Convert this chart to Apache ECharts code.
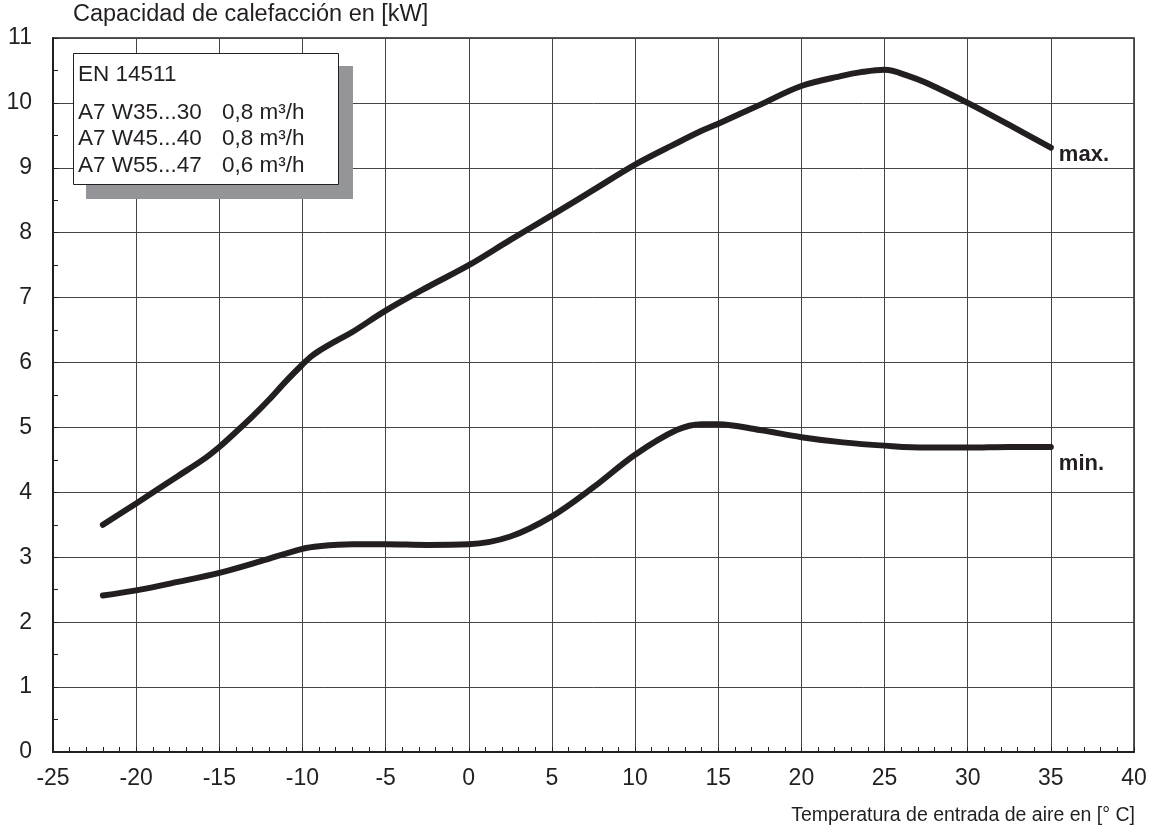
<!DOCTYPE html>
<html>
<head>
<meta charset="utf-8">
<script src="https://cdn.jsdelivr.net/npm/echarts@6/dist/echarts.min.js"></script>
<style>
html,body{margin:0;padding:0;background:#fff;}
#chart{width:1158px;height:833px;}
</style>
</head>
<body>
<div id="chart"></div>
<script>
// ---- data ----
const maxTemp = [-22, -20, -17.5, -16, -15, -14, -13, -12, -11, -10, -9.5, -9, -8, -7, -5, -2.5, 0, 2.5, 5, 7.5, 10, 12.5, 14, 15, 17.5, 20, 22.5, 23.5, 25, 26.5, 27.5, 30, 32.5, 35];
const maxPower = [3.5, 3.83, 4.25, 4.5, 4.7, 4.93, 5.17, 5.43, 5.71, 5.97, 6.09, 6.18, 6.33, 6.47, 6.8, 7.16, 7.5, 7.89, 8.27, 8.66, 9.05, 9.38, 9.57, 9.68, 9.97, 10.26, 10.42, 10.47, 10.51, 10.41, 10.31, 10.0, 9.66, 9.31];
const minTemp = [-22, -20, -17.5, -15, -12.5, -10, -9, -7, -5, -2.5, 0, 2.5, 5, 7.5, 10, 12.5, 14, 15, 17.5, 20, 22.5, 25, 27.5, 30, 32.5, 35];
const minPower = [2.41, 2.49, 2.62, 2.76, 2.94, 3.13, 3.17, 3.2, 3.2, 3.19, 3.2, 3.32, 3.63, 4.08, 4.58, 4.96, 5.05, 5.05, 4.96, 4.85, 4.77, 4.72, 4.69, 4.69, 4.7, 4.7];
const seriesNames = ['max.', 'min.'];
const yTitle = 'Capacidad de calefacción en [kW]';
const xTitle = 'Temperatura de entrada de aire en [° C]';
const legendTitle = 'EN 14511';
const legendRows = [['A7 W35...30', '0,8 m³/h'], ['A7 W45...40', '0,8 m³/h'], ['A7 W55...47', '0,6 m³/h']];

const ink = '#231f20';
const font = "'Liberation Sans', Arial, sans-serif";
const pair = (xs, ys) => xs.map((x, i) => [x, ys[i]]);

const legendGraphics = [
  { type: 'rect', shape: { x: 86, y: 66, width: 267, height: 133 }, style: { fill: '#939598' }, z: 10 },
  { type: 'rect', shape: { x: 73.5, y: 53.5, width: 265, height: 131 }, style: { fill: '#fff', stroke: ink, lineWidth: 1 }, z: 11 },
  { type: 'text', left: 78, top: 63, z: 12, style: { text: legendTitle, font: '22.5px ' + font, fill: ink } }
];
legendRows.forEach((r, i) => {
  legendGraphics.push({ type: 'text', left: 78, top: 101 + i * 26.5, z: 12, style: { text: r[0], font: '22.5px ' + font, fill: ink } });
  legendGraphics.push({ type: 'text', left: 222, top: 101 + i * 26.5, z: 12, style: { text: r[1], font: '22.5px ' + font, fill: ink } });
});

const chart = echarts.init(document.getElementById('chart'), null, { renderer: 'canvas' });
chart.setOption({
  animation: false,
  backgroundColor: '#fff',
  textStyle: { fontFamily: font },
  grid: { left: 53, right: 24, top: 38, bottom: 81, show: true, borderColor: ink, borderWidth: 1.5, backgroundColor: 'transparent' },
  xAxis: {
    type: 'value', min: -25, max: 40, interval: 5,
    axisLine: { show: true, onZero: false, lineStyle: { color: ink, width: 2 } },
    axisTick: { show: true, inside: true, length: 5, lineStyle: { color: ink } },
    minorTick: { show: true, splitNumber: 5, length: 5, lineStyle: { color: ink, width: 1 } },
    splitLine: { show: true, lineStyle: { color: '#444', width: 1 } },
    axisLabel: { color: ink, fontSize: 23, fontFamily: font, margin: 15 }
  },
  yAxis: {
    type: 'value', min: 0, max: 11, interval: 1,
    axisLine: { show: true, onZero: false, lineStyle: { color: ink, width: 2 } },
    axisTick: { show: true, inside: true, length: 5, lineStyle: { color: ink } },
    minorTick: { show: true, splitNumber: 2, length: 5, lineStyle: { color: ink, width: 1 } },
    splitLine: { show: true, lineStyle: { color: '#444', width: 1 } },
    axisLabel: { color: ink, fontSize: 23, fontFamily: font, margin: 21 }
  },
  graphic: [
    { type: 'text', left: 73, top: 3, style: { text: yTitle, font: '23.5px ' + font, fill: ink } },
    { type: 'text', right: 23, top: 806, style: { text: xTitle, font: '19.5px ' + font, fill: ink, textAlign: 'right' } }
  ].concat(legendGraphics),
  series: [
    {
      name: seriesNames[0], type: 'line', data: pair(maxTemp, maxPower), smooth: 0.35,
      symbol: 'none', lineStyle: { color: ink, width: 6, cap: 'round', join: 'round' }, z: 5,
      endLabel: { show: true, formatter: seriesNames[0], color: ink, fontWeight: 'bold', fontSize: 22, fontFamily: font, distance: 8, offset: [0, 7] }
    },
    {
      name: seriesNames[1], type: 'line', data: pair(minTemp, minPower), smooth: 0.35,
      symbol: 'none', lineStyle: { color: ink, width: 6, cap: 'round', join: 'round' }, z: 5,
      endLabel: { show: true, formatter: seriesNames[1], color: ink, fontWeight: 'bold', fontSize: 22, fontFamily: font, distance: 8, offset: [0, 17] }
    }
  ]
});
</script>
</body>
</html>
